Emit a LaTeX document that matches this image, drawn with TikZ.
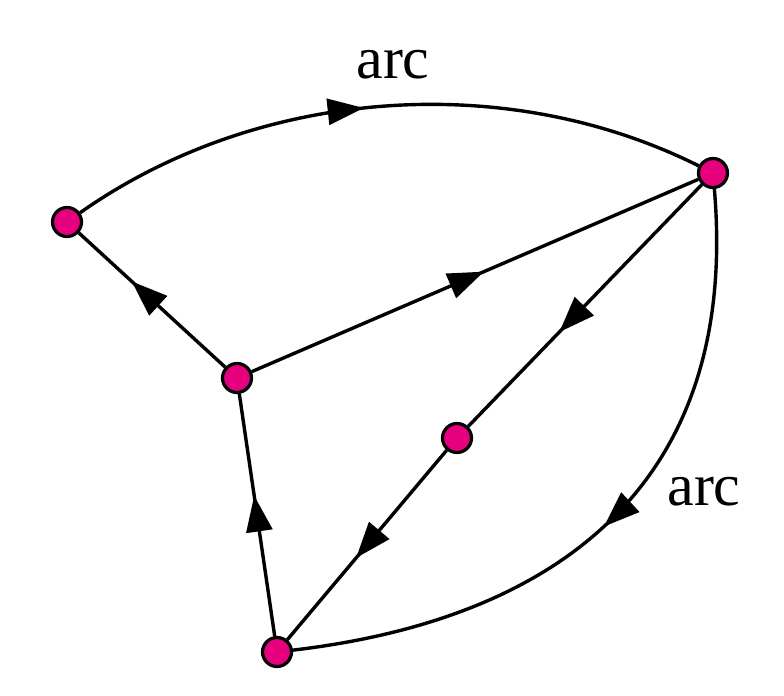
\documentclass[tikz,border=0pt]{standalone}
\usepackage{fontspec}
\setmainfont{Liberation Serif}
\usetikzlibrary{arrows.meta,decorations.markings}
\definecolor{vmag}{RGB}{230,0,126}
\tikzset{
  vtx/.style={circle,draw=black,fill=vmag,line width=1.6pt,inner sep=0pt,minimum size=14.5pt},
  edge/.style={line width=1.7pt,draw=black},
  midarrow/.style={postaction={decorate},decoration={markings,
    mark=at position #1 with {\arrow{Triangle[length=18pt,width=13pt]}}}},
  lbl/.style={font=\fontsize{30}{36}\selectfont,anchor=base,inner sep=0pt}
}
\begin{document}
\begin{tikzpicture}[x=0.5pt,y=-0.5pt]
\useasboundingbox (0,0) rectangle (784,696);
\node[vtx] (A) at (67,222) {};
\node[vtx] (B) at (713,173) {};
\node[vtx] (C) at (237,378) {};
\node[vtx] (D) at (457,438) {};
\node[vtx] (E) at (277,652) {};
\draw[edge,midarrow=0.47] (A) .. controls (257,88) and (505,69) .. (B);
\draw[edge,midarrow=0.52] (B) .. controls (740,490) and (550,620) .. (E);
\draw[edge,midarrow=0.64] (C) -- (A);
\draw[edge,midarrow=0.52] (C) -- (B);
\draw[edge,midarrow=0.61] (B) -- (D);
\draw[edge,midarrow=0.57] (D) -- (E);
\draw[edge,midarrow=0.58] (E) -- (C);
\node[lbl] (l1) at (393,78) {arc};
\node[lbl] (l2) at (704,505) {arc};
\end{tikzpicture}
\end{document}
